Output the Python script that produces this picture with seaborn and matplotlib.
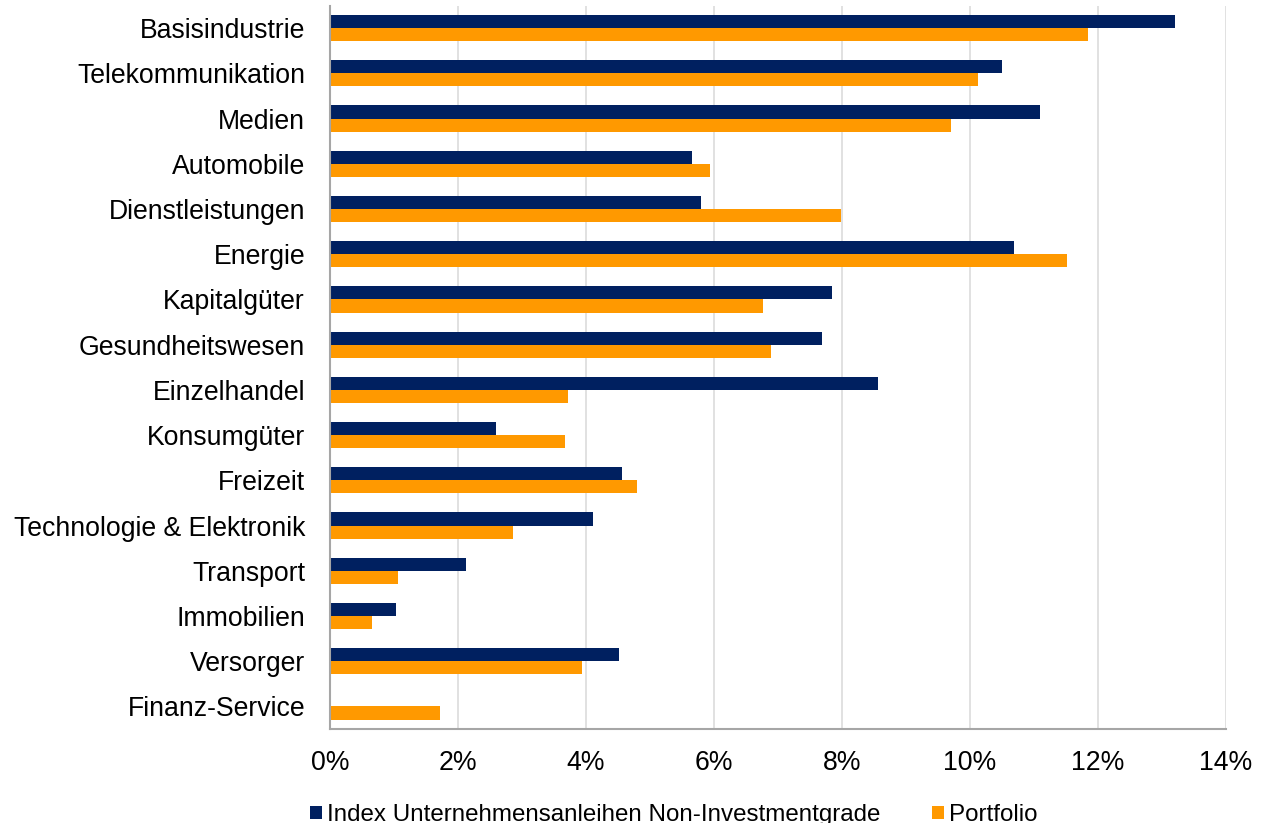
import matplotlib
matplotlib.use("Agg")
import matplotlib.pyplot as plt
import seaborn as sns
import pandas as pd
from matplotlib.patches import Patch
from matplotlib.ticker import FuncFormatter, MultipleLocator

categories = ["Basisindustrie", "Telekommunikation", "Medien", "Automobile",
              "Dienstleistungen", "Energie", "Kapitalgüter", "Gesundheitswesen",
              "Einzelhandel", "Konsumgüter", "Freizeit", "Technologie & Elektronik",
              "Transport", "Immobilien", "Versorger", "Finanz-Service"]
index_values = [13.21, 10.50, 11.10, 5.66, 5.80, 10.69, 7.85, 7.69,
                8.57, 2.59, 4.56, 4.11, 2.12, 1.03, 4.52, 0.0]
portfolio_values = [11.84, 10.12, 9.70, 5.93, 7.98, 11.52, 6.77, 6.89,
                    3.72, 3.67, 4.80, 2.86, 1.06, 0.66, 3.94, 1.72]
series_names = ["Index Unternehmensanleihen Non-Investmentgrade", "Portfolio"]
colors = ["#002060", "#FF9900"]

df = pd.DataFrame({
    "Sektor": categories * 2,
    "Wert": index_values + portfolio_values,
    "Serie": [series_names[0]] * len(categories) + [series_names[1]] * len(categories),
})

sns.set_style("white")
plt.rcParams["font.family"] = ["Liberation Sans", "DejaVu Sans"]
plt.rcParams["text.color"] = "black"

fig = plt.figure(figsize=(12.76, 8.23), dpi=100)
ax = fig.add_axes([330 / 1276, 1 - 729 / 823, (1226 - 330) / 1276, (729 - 5.5) / 823])

sns.barplot(data=df, x="Wert", y="Sektor", hue="Serie", order=categories,
            hue_order=series_names, palette=colors, orient="h", width=0.58,
            saturation=1, ax=ax, legend=False, errorbar=None,
            linewidth=0, edgecolor="none")

ax.set_xlim(0, 14)
ax.set_ylim(len(categories) - 0.5, -0.5)
ax.xaxis.set_major_locator(MultipleLocator(2))
ax.xaxis.set_major_formatter(FuncFormatter(lambda v, p: f"{v:.0f}%"))
ax.set_xlabel("")
ax.set_ylabel("")
ax.grid(axis="x", color="#D9D9D9", linewidth=1.1)
ax.grid(axis="y", visible=False)
ax.set_axisbelow(True)
for s in ["top", "right"]:
    ax.spines[s].set_visible(False)
for s in ["left", "bottom"]:
    ax.spines[s].set_color("#A6A6A6")
    ax.spines[s].set_linewidth(1.5)
ax.tick_params(axis="y", length=0, pad=18, labelsize=19.2, labelcolor="black")
ax.tick_params(axis="x", length=0, pad=15, labelsize=19.2, labelcolor="black")

handles = [Patch(facecolor=c, edgecolor="none") for c in colors]
fig.legend(handles, series_names, loc="center", bbox_to_anchor=(0.528, 0.0095),
           ncol=2, frameon=False, fontsize=17.4, handlelength=0.5,
           handleheight=0.5, handletextpad=0.18, columnspacing=2.15,
           labelcolor="black")

fig.savefig("out.png", dpi=100)
